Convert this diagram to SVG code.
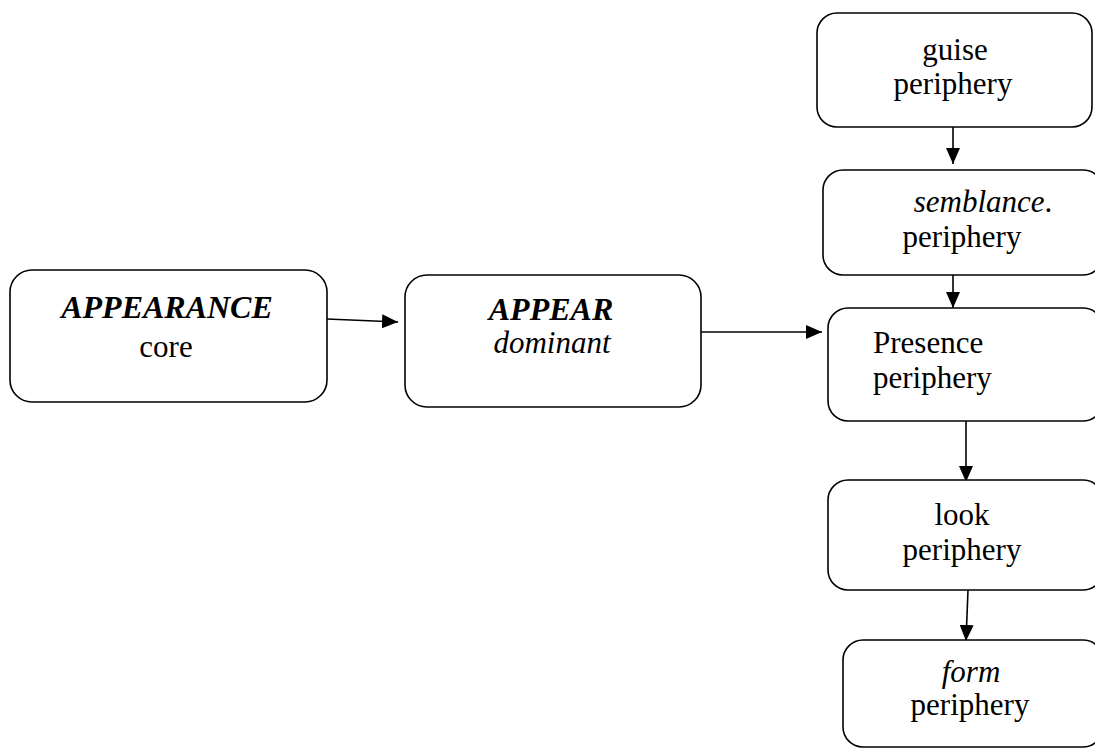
<svg xmlns="http://www.w3.org/2000/svg" width="1095" height="749" viewBox="0 0 1095 749">
<style>
.box{fill:#fff;stroke:#000;stroke-width:1.6}
.t{font-family:"Liberation Serif","Times New Roman",serif;font-size:31px;fill:#000}
.m{text-anchor:middle}
.bi{font-weight:bold;font-style:italic}
.i{font-style:italic}
.c{stroke:#000;stroke-width:1.6;fill:none}
</style>
<defs>
<marker id="ah" viewBox="0 0 16 14" refX="16" refY="7" markerWidth="16" markerHeight="14" markerUnits="userSpaceOnUse" orient="auto">
<path d="M0,0 L16,7 L0,14 Z" fill="#000"/>
</marker>
</defs>
<rect width="1095" height="749" fill="#fff"/>
<g id="connectors">
<line class="c" x1="327" y1="319" x2="398" y2="322" marker-end="url(#ah)"/>
<line class="c" x1="701" y1="332" x2="822" y2="332" marker-end="url(#ah)"/>
<line class="c" x1="953" y1="127" x2="953" y2="164" marker-end="url(#ah)"/>
<line class="c" x1="953" y1="275" x2="953" y2="308" marker-end="url(#ah)"/>
<line class="c" x1="966" y1="421" x2="966" y2="482" marker-end="url(#ah)"/>
<line class="c" x1="968" y1="590" x2="966" y2="641" marker-end="url(#ah)"/>
</g>
<g id="node-appearance">
<rect class="box" x="10" y="270" width="317" height="132" rx="22"/>
<text class="t m bi" x="167" y="318" style="font-size:32px">APPEARANCE</text>
<text class="t m" x="166" y="357">core</text>
</g>
<g id="node-appear">
<rect class="box" x="405" y="275" width="296" height="132" rx="22"/>
<text class="t m bi" x="551" y="320" style="font-size:32px">APPEAR</text>
<text class="t m i" x="552" y="353">dominant</text>
</g>
<g id="node-guise">
<rect class="box" x="817" y="13" width="275" height="114" rx="20"/>
<text class="t m" x="955" y="60">guise</text>
<text class="t m" x="953" y="94">periphery</text>
</g>
<g id="node-semblance">
<rect class="box" x="823" y="170" width="280" height="105" rx="20"/>
<text class="t m" x="983" y="212"><tspan class="i">semblance</tspan>.</text>
<text class="t m" x="962" y="247">periphery</text>
</g>
<g id="node-presence">
<rect class="box" x="828" y="308" width="275" height="113" rx="20"/>
<text class="t" x="873" y="353">Presence</text>
<text class="t" x="873" y="388">periphery</text>
</g>
<g id="node-look">
<rect class="box" x="828" y="480" width="275" height="110" rx="20"/>
<text class="t m" x="962" y="525">look</text>
<text class="t m" x="962" y="560">periphery</text>
</g>
<g id="node-form">
<rect class="box" x="843" y="640" width="260" height="107" rx="20"/>
<text class="t m i" x="971" y="682">form</text>
<text class="t m" x="970" y="715">periphery</text>
</g>
</svg>
